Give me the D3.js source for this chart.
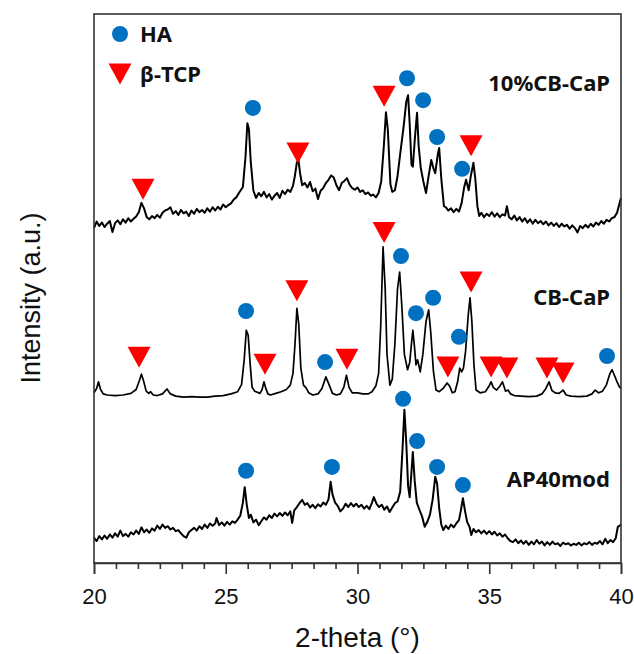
<!DOCTYPE html>
<html>
<head>
<meta charset="utf-8">
<script src="https://cdn.jsdelivr.net/npm/d3@7"></script>
<style>
  body { margin: 0; background: #fff; }
  svg { display: block; }
  .trace { fill: none; stroke: #000; stroke-width: 2; stroke-linejoin: round; }
  .trace.smooth { stroke-width: 1.7; }
  .lbl { font-family: "Noto Sans", sans-serif; font-weight: bold; font-size: 22px; fill: #111; }
  .axis text { font-family: "Liberation Sans", Arial, sans-serif; font-size: 22px; fill: #111; }
</style>
</head>
<body>
<svg id="chart" width="634" height="654"></svg>
<script>
// XRD patterns, values: [2-theta, stacked intensity (a.u.)]
const cbcap10 = [
  [20.0,61.0],[20.1,62.2],[20.2,61.4],[20.3,62.0],[20.4,61.2],[20.5,61.8],[20.6,62.3],[20.7,60.3],
  [20.8,61.9],[20.9,62.4],[21.0,61.7],[21.1,62.6],[21.2,62.0],[21.3,62.8],[21.4,62.2],[21.5,62.7],
  [21.6,63.1],[21.7,63.9],[21.8,65.6],[21.9,64.6],[22.0,63.0],[22.1,62.6],[22.2,63.2],[22.3,62.8],
  [22.4,63.4],[22.5,62.9],[22.6,63.8],[22.7,64.2],[22.8,64.4],[22.9,64.8],[23.0,63.6],[23.1,64.1],
  [23.2,63.4],[23.3,64.3],[23.4,63.7],[23.5,64.0],[23.6,63.2],[23.7,64.2],[23.8,63.6],[23.9,64.5],
  [24.0,63.9],[24.1,64.3],[24.2,63.8],[24.3,64.6],[24.4,64.0],[24.5,64.8],[24.6,64.2],[24.7,64.9],
  [24.8,64.4],[24.9,65.3],[25.0,64.8],[25.1,65.2],[25.2,65.5],[25.3,66.2],[25.4,66.6],[25.5,67.4],
  [25.65,68.5],[25.75,74.0],[25.82,80.1],[25.88,79.0],[25.95,73.0],[26.05,67.8],[26.15,66.5],
  [26.25,67.4],[26.35,66.8],[26.45,67.6],[26.55,66.6],[26.65,67.2],[26.75,66.2],[26.85,66.9],
  [26.95,67.4],[27.05,66.5],[27.15,67.8],[27.25,67.2],[27.35,68.0],[27.45,67.6],[27.55,68.7],
  [27.62,70.4],[27.7,73.0],[27.76,73.4],[27.82,71.0],[27.9,68.8],[28.0,69.2],[28.1,68.4],[28.2,69.4],
  [28.3,67.7],[28.4,68.2],[28.5,66.3],[28.6,67.8],[28.7,68.3],[28.8,69.2],[28.9,69.8],[29.0,70.6],
  [29.1,70.2],[29.2,68.8],[29.3,67.9],[29.4,69.2],[29.5,69.6],[29.6,70.1],[29.7,68.9],[29.8,68.3],
  [29.9,68.0],[30.0,68.4],[30.1,67.6],[30.2,67.9],[30.3,67.2],[30.4,67.5],[30.5,66.9],[30.6,67.1],
  [30.7,66.6],[30.8,67.4],[30.9,69.5],[31.0,76.0],[31.08,82.1],[31.15,79.0],[31.25,69.0],[31.32,67.6],
  [31.42,67.9],[31.52,70.5],[31.62,74.5],[31.75,79.5],[31.85,84.0],[31.92,85.2],[31.98,80.0],
  [32.05,72.5],[32.1,72.2],[32.18,77.5],[32.26,82.0],[32.32,76.0],[32.4,72.0],[32.5,69.5],[32.6,67.4],
  [32.7,70.5],[32.8,73.4],[32.88,71.9],[32.95,71.0],[33.05,74.5],[33.1,75.6],[33.18,70.0],[33.28,65.0],
  [33.35,64.8],[33.45,64.2],[33.55,64.6],[33.65,63.9],[33.75,64.5],[33.85,64.0],[33.95,65.5],
  [34.05,68.5],[34.12,69.8],[34.22,67.9],[34.3,70.5],[34.4,72.9],[34.47,70.0],[34.55,65.0],[34.62,63.2],
  [34.7,63.8],[34.8,63.0],[34.9,63.6],[35.0,63.2],[35.1,63.9],[35.2,63.1],[35.3,63.7],[35.4,63.0],
  [35.5,63.5],[35.6,63.3],[35.67,65.0],[35.75,63.0],[35.85,62.6],[35.95,63.3],[36.05,62.4],[36.15,63.0],
  [36.25,62.2],[36.35,62.8],[36.45,62.0],[36.55,62.6],[36.65,61.8],[36.75,62.5],[36.85,61.9],
  [36.95,62.3],[37.05,61.7],[37.15,62.2],[37.25,61.5],[37.35,62.0],[37.45,61.4],[37.55,61.9],
  [37.65,61.2],[37.75,61.8],[37.85,61.3],[37.95,61.6],[38.05,60.9],[38.15,61.5],[38.25,61.0],
  [38.35,60.2],[38.45,61.4],[38.55,61.0],[38.65,61.6],[38.75,61.1],[38.85,61.8],[38.95,61.3],
  [39.05,62.0],[39.15,61.6],[39.25,62.3],[39.35,61.8],[39.45,62.5],[39.55,62.2],[39.65,62.8],
  [39.75,63.0],[39.85,63.8],[39.95,65.6],[40.0,66.5]
];

const cbcap = [
  [20.0,31.0],[20.1,31.8],[20.17,33.0],[20.25,31.6],[20.35,30.8],[20.5,30.6],[20.8,30.5],[21.1,30.6],
  [21.4,30.9],[21.6,31.6],[21.72,33.2],[21.8,34.4],[21.88,33.2],[21.98,31.3],[22.08,30.9],[22.15,31.2],
  [22.25,30.6],[22.4,30.5],[22.6,30.8],[22.77,31.7],[22.9,30.8],[23.1,30.4],[23.4,30.2],[23.7,30.3],
  [24.0,30.2],[24.3,30.2],[24.6,30.4],[24.9,30.5],[25.2,30.8],[25.45,31.2],[25.6,32.5],[25.7,37.0],
  [25.78,42.4],[25.85,41.5],[25.93,36.0],[26.0,32.0],[26.1,31.3],[26.2,31.1],[26.3,30.9],[26.38,31.6],
  [26.45,33.0],[26.52,31.8],[26.6,30.8],[26.7,30.6],[26.9,30.9],[27.1,31.2],[27.3,31.6],[27.45,32.4],
  [27.55,34.5],[27.63,40.0],[27.7,46.4],[27.77,43.5],[27.85,35.5],[27.95,32.4],[28.05,31.9],[28.15,31.0],
  [28.3,30.6],[28.5,30.8],[28.65,31.8],[28.8,33.9],[28.92,32.5],[29.05,30.9],[29.2,30.6],[29.35,30.8],
  [29.48,32.0],[29.58,34.2],[29.68,32.0],[29.8,31.0],[30.0,31.0],[30.2,30.8],[30.4,30.8],[30.55,31.2],
  [30.7,32.3],[30.8,34.5],[30.88,43.0],[30.97,57.6],[31.05,50.0],[31.12,38.0],[31.23,32.4],[31.32,33.5],
  [31.42,40.0],[31.52,50.0],[31.6,53.0],[31.68,47.0],[31.78,38.0],[31.9,35.2],[31.98,36.5],[32.05,40.0],
  [32.1,42.4],[32.16,39.5],[32.22,36.1],[32.28,37.0],[32.33,36.0],[32.38,34.8],[32.48,38.0],[32.6,44.0],
  [32.7,46.1],[32.78,42.0],[32.88,35.0],[32.98,31.5],[33.1,31.2],[33.25,31.8],[33.4,32.8],[33.5,32.2],
  [33.6,31.0],[33.7,31.2],[33.8,33.0],[33.88,35.5],[33.95,34.8],[34.02,35.5],[34.1,38.5],[34.2,45.0],
  [34.27,48.3],[34.34,44.0],[34.42,36.0],[34.5,31.5],[34.65,31.0],[34.85,31.2],[35.0,32.3],[35.07,33.0],
  [35.15,32.0],[35.28,31.5],[35.4,32.2],[35.5,33.0],[35.62,31.3],[35.72,31.5],[35.8,30.8],[35.95,30.5],
  [36.2,30.4],[36.5,30.3],[36.8,30.4],[37.0,30.8],[37.15,31.8],[37.27,33.0],[37.38,31.4],[37.5,31.0],
  [37.65,30.9],[37.8,31.5],[37.92,30.6],[38.1,30.4],[38.4,30.3],[38.7,30.4],[38.9,30.8],[39.02,31.5],
  [39.15,31.0],[39.3,31.3],[39.45,32.5],[39.58,34.5],[39.66,35.2],[39.75,34.2],[39.85,33.0],
  [39.95,32.0],[40.0,31.8]
];

const ap40mod = [
  [20.0,4.6],[20.1,4.0],[20.2,4.9],[20.3,4.3],[20.4,5.0],[20.5,4.4],[20.6,5.2],[20.7,4.6],[20.8,5.4],
  [20.9,4.8],[21.0,5.9],[21.1,4.9],[21.2,5.3],[21.3,4.8],[21.4,5.6],[21.5,5.2],[21.6,5.9],[21.7,5.3],
  [21.8,6.5],[21.9,5.6],[22.0,6.1],[22.1,5.5],[22.2,6.3],[22.3,5.9],[22.4,6.8],[22.5,6.2],[22.6,7.0],
  [22.7,6.4],[22.8,6.7],[22.9,6.1],[23.0,6.4],[23.1,5.8],[23.2,6.0],[23.3,5.4],[23.4,4.9],[23.5,4.6],
  [23.6,5.6],[23.7,6.0],[23.8,6.4],[23.9,5.9],[24.0,6.7],[24.1,6.2],[24.2,7.0],[24.3,6.4],[24.4,7.2],
  [24.5,6.8],[24.6,7.2],[24.65,8.2],[24.75,6.9],[24.85,7.4],[24.95,6.8],[25.05,7.5],[25.15,7.0],
  [25.25,7.6],[25.35,7.3],[25.45,7.9],[25.55,8.6],[25.65,11.0],[25.72,13.8],[25.8,10.5],[25.88,8.2],
  [25.95,8.8],[26.05,7.4],[26.15,7.9],[26.25,6.9],[26.35,7.6],[26.45,8.3],[26.55,7.9],[26.65,8.7],
  [26.75,8.2],[26.85,9.0],[26.95,8.5],[27.05,9.1],[27.15,8.6],[27.25,9.2],[27.35,8.7],[27.45,9.4],
  [27.52,7.3],[27.6,9.6],[27.7,10.2],[27.8,10.9],[27.9,11.5],[28.0,10.6],[28.1,10.9],[28.2,10.1],
  [28.3,10.6],[28.4,10.0],[28.5,10.7],[28.6,10.3],[28.7,11.0],[28.8,10.6],[28.9,11.6],[28.98,14.8],
  [29.05,12.5],[29.15,11.0],[29.25,10.4],[29.35,9.4],[29.45,9.9],[29.55,10.8],[29.65,10.2],[29.75,10.9],
  [29.85,10.3],[29.95,10.8],[30.05,10.2],[30.15,10.6],[30.25,9.9],[30.35,10.4],[30.45,9.8],[30.55,11.0],
  [30.62,12.0],[30.72,10.8],[30.82,10.2],[30.92,10.6],[31.02,9.7],[31.12,10.3],[31.22,9.3],[31.32,10.1],
  [31.42,10.9],[31.52,11.2],[31.62,13.0],[31.7,20.0],[31.78,27.9],[31.85,22.0],[31.92,14.0],[31.98,12.0],
  [32.04,16.0],[32.1,20.2],[32.17,15.0],[32.25,11.0],[32.35,9.7],[32.45,8.5],[32.55,6.6],[32.65,7.5],
  [32.75,8.8],[32.85,11.5],[32.95,15.7],[33.02,14.5],[33.1,10.0],[33.18,7.0],[33.26,6.0],[33.35,6.8],
  [33.45,6.2],[33.55,7.0],[33.65,6.5],[33.75,7.2],[33.85,7.8],[33.92,9.5],[34.0,11.8],[34.08,9.5],
  [34.16,7.5],[34.25,6.6],[34.32,5.1],[34.4,6.2],[34.5,5.6],[34.6,6.0],[34.7,5.4],[34.8,5.9],[34.9,5.3],
  [35.0,5.8],[35.1,5.2],[35.2,5.7],[35.3,5.0],[35.4,5.4],[35.5,4.8],[35.6,5.2],[35.7,4.5],[35.8,4.0],
  [35.9,3.8],[36.0,4.3],[36.1,3.6],[36.2,4.1],[36.3,3.5],[36.4,4.0],[36.5,3.3],[36.6,3.9],[36.7,3.4],
  [36.8,4.2],[36.9,3.5],[37.0,3.9],[37.1,3.2],[37.2,3.8],[37.3,3.3],[37.4,3.9],[37.5,3.4],[37.6,3.6],
  [37.7,3.1],[37.8,3.7],[37.9,3.4],[38.0,3.6],[38.1,3.2],[38.2,3.5],[38.3,3.3],[38.4,3.7],[38.5,3.2],
  [38.6,3.6],[38.7,3.4],[38.8,3.8],[38.9,3.3],[39.0,3.7],[39.1,3.5],[39.2,4.0],[39.3,3.4],[39.4,4.4],
  [39.5,3.6],[39.6,4.2],[39.7,3.8],[39.8,4.5],[39.88,6.6],[39.95,6.8],[40.0,7.0]
];

// phase markers [2-theta, intensity]
const haMarks = [
  [26.03,82.9],[31.88,88.3],[32.49,84.3],[33.02,77.6],[33.97,71.8],
  [25.77,45.9],[28.77,36.6],[31.65,55.9],[32.22,45.5],[32.87,48.3],[33.85,41.2],[39.47,37.7],
  [25.77,16.8],[29.03,17.5],[31.73,29.9],[32.26,22.2],[33.02,17.5],[34.0,14.2]
];
const tcpMarks = [
  [21.86,68.1],[27.74,74.7],[31.01,85.0],[34.31,76.0],
  [21.71,37.5],[26.49,36.2],[27.70,49.6],[29.60,37.1],[31.01,60.2],[33.43,35.7],
  [34.31,51.2],[35.07,35.7],[35.67,35.5],[37.19,35.5],[37.80,34.6]
];

const seriesNames = ["10%CB-CaP", "CB-CaP", "AP40mod"];
const seriesLabelY = [86, 47, 13.8];   // label baseline, same units as intensity
const majorTicks = [20, 25, 30, 35, 40];

const margin = {left: 94, top: 14, right: 13, bottom: 91};
const width = 634 - margin.left - margin.right;
const height = 654 - margin.top - margin.bottom;

const svg = d3.select("#chart");
const g = svg.append("g").attr("transform", `translate(${margin.left},${margin.top})`);

const x = d3.scaleLinear().domain([20, 40]).range([0, width]);
const y = d3.scaleLinear().domain([0, 100]).range([height, 0]);

const line = d3.line().x(d => x(d[0])).y(d => y(d[1]));

g.selectAll(".trace")
  .data([cbcap10, cbcap, ap40mod])
  .enter().append("path")
  .attr("class", (d, i) => i === 1 ? "trace smooth" : "trace")
  .attr("d", line);

// markers
g.selectAll(".ha")
  .data(haMarks)
  .enter().append("circle")
  .attr("cx", d => x(d[0]))
  .attr("cy", d => y(d[1]))
  .attr("r", 8)
  .attr("fill", "#0070c0");

const tri = "M-11.5,-10.5L11.5,-10.5L0,10.5Z";
g.selectAll(".tcp")
  .data(tcpMarks)
  .enter().append("path")
  .attr("d", tri)
  .attr("transform", d => `translate(${x(d[0])},${y(d[1])})`)
  .attr("fill", "#ff0000");

// series labels
g.selectAll(".lbl")
  .data(seriesNames)
  .enter().append("text")
  .attr("class", "lbl")
  .attr("x", width - 11)
  .attr("y", (d, i) => y(seriesLabelY[i]))
  .attr("text-anchor", "end")
  .text(d => d);

// legend
g.append("circle").attr("cx", 26).attr("cy", 20).attr("r", 8).attr("fill", "#0070c0");
g.append("text").attr("class", "lbl").attr("x", 46).attr("y", 28).text("HA");
g.append("path").attr("d", tri).attr("transform", "translate(26,60)").attr("fill", "#ff0000");
g.append("text").attr("class", "lbl").attr("x", 46).attr("y", 68).text("β-TCP");

// frame
g.append("rect")
  .attr("width", width).attr("height", height)
  .attr("fill", "none").attr("stroke", "#333").attr("stroke-width", 1.6);

// x axis, minor ticks every 5/6 degree
const minor = d3.range(0, 25).map(k => 20 + k * 5 / 6).filter((v, k) => k % 6 !== 0);
g.append("g")
  .attr("transform", `translate(0,${height})`)
  .call(d3.axisBottom(x).tickValues(minor).tickSize(6).tickFormat(""))
  .call(a => a.select(".domain").remove())
  .selectAll("line").attr("stroke", "#333").attr("stroke-width", 1.6);

const xa = g.append("g")
  .attr("class", "axis")
  .attr("transform", `translate(0,${height})`)
  .call(d3.axisBottom(x).tickValues(majorTicks).tickSize(11).tickPadding(14).tickFormat(d3.format("d")));
xa.select(".domain").attr("stroke", "#333").attr("stroke-width", 1.6);
xa.selectAll("line").attr("stroke", "#333").attr("stroke-width", 1.6);

g.append("text")
  .attr("x", width / 2).attr("y", height + 84)
  .attr("text-anchor", "middle")
  .style("font-family", "Liberation Sans, Arial, sans-serif")
  .style("font-size", "28px").style("fill", "#111")
  .text("2-theta (°)");

g.append("text")
  .attr("transform", `translate(${40 - margin.left},${298 - margin.top}) rotate(-90)`)
  .attr("text-anchor", "middle")
  .style("font-family", "Liberation Sans, Arial, sans-serif")
  .style("font-size", "27px").style("fill", "#111")
  .text("Intensity (a.u.)");
</script>
</body>
</html>
